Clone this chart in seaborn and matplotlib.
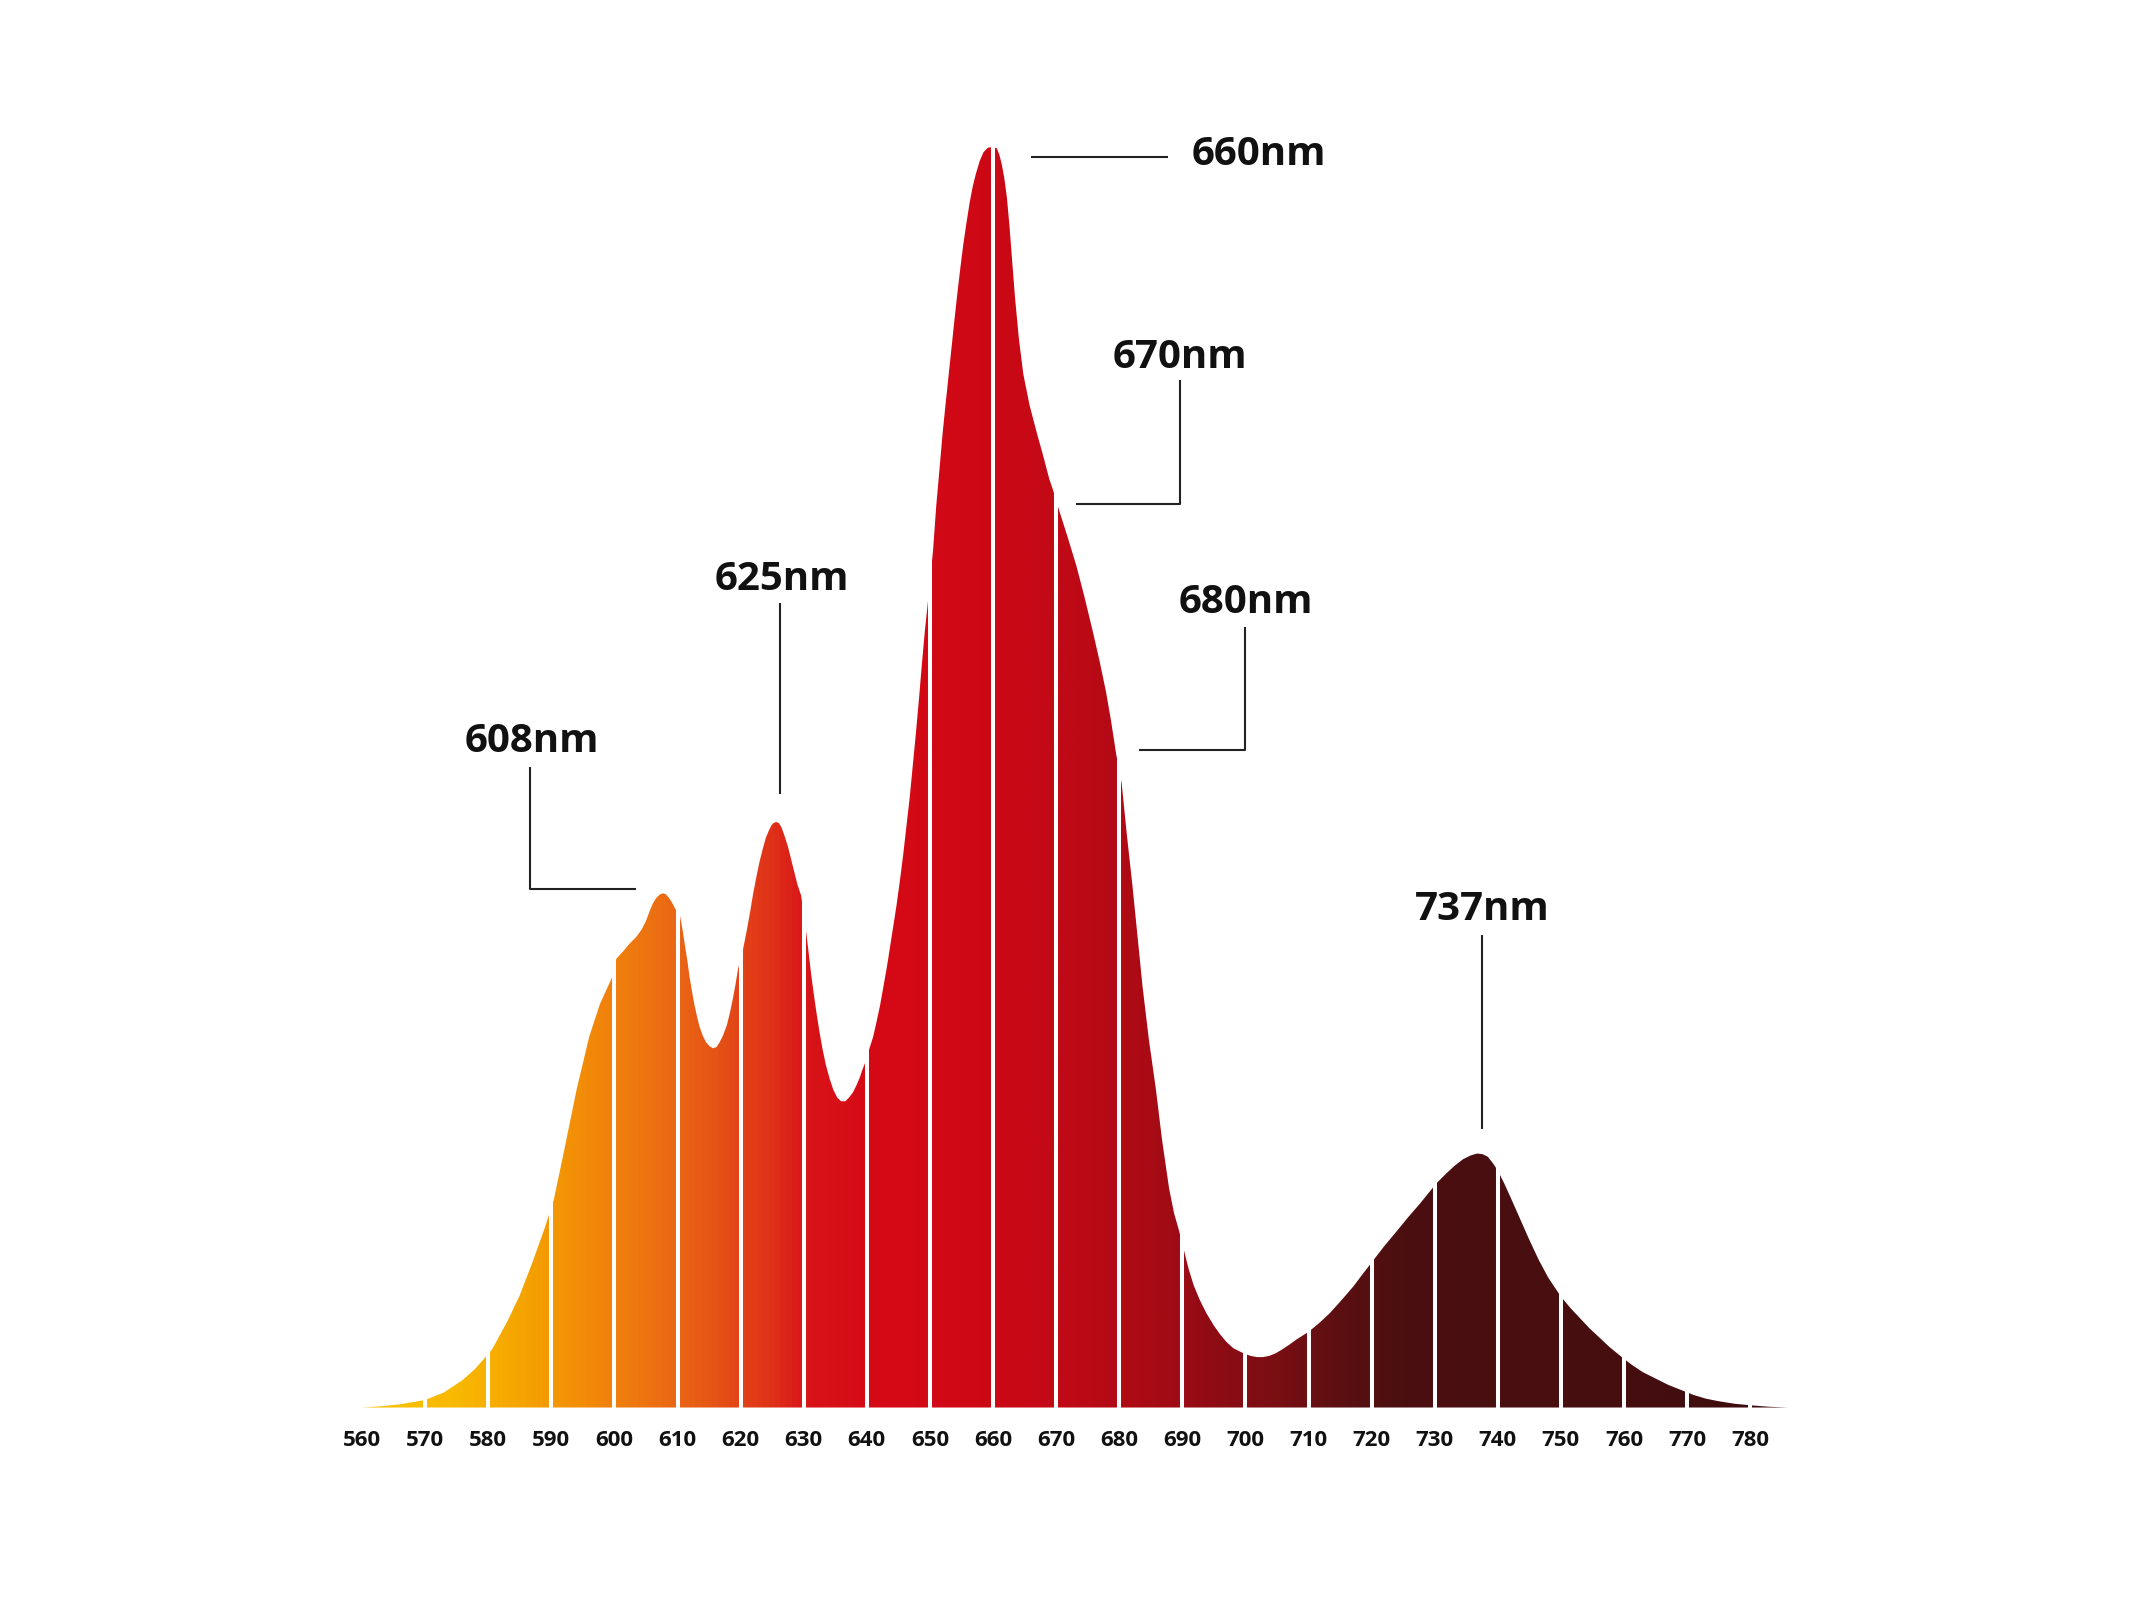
import numpy as np
import pandas as pd
import seaborn as sns
import matplotlib.pyplot as plt
from matplotlib.colors import LinearSegmentedColormap

# spectrum (relative intensity, 660nm peak = 100)
wavelength = [560, 563, 566, 570, 573, 576, 578, 580.6, 583, 585, 587, 589, 590.4, 592, 594, 596,
              597.7, 599.7, 600.3, 601.4, 602.4, 603.4, 604.3, 605.0, 605.6, 606.1, 606.6, 607.2,
              607.7, 608.2, 608.7, 609.2, 609.6, 610.4, 610.8, 611.2, 611.6, 611.9, 612.3, 612.7,
              613.1, 613.5, 614.0, 614.5, 615.0, 615.6, 616.2, 616.7, 617.2, 617.8, 618.3, 618.8,
              619.2, 619.6, 620.4, 621.0, 621.5, 622.0, 622.5, 623.0, 623.5, 624.0, 624.5, 624.9,
              625.3, 625.7, 626.1, 626.5, 627.0, 627.5, 628.0, 628.5, 629.0, 629.6, 630.4, 630.8,
              631.2, 631.6, 632.0, 632.5, 633.0, 633.5, 634.1, 634.7, 635.3, 635.9, 636.6, 637.2,
              637.8, 638.4, 638.9, 639.3, 639.7, 640.3, 641.0, 641.5, 642.1, 642.6, 643.2, 643.7,
              644.2, 644.7, 645.3, 645.8, 646.3, 646.8, 647.3, 647.8, 648.3, 648.7, 649.2, 649.7,
              650.5, 651.0, 651.6, 652.0, 652.4, 652.8, 653.2, 653.6, 654.0, 654.4, 654.8, 655.3,
              655.8, 656.3, 656.8, 657.3, 657.9, 658.5, 659.2, 660.0, 660.6, 661.0, 661.4, 661.8,
              662.2, 662.6, 663.0, 663.5, 664.1, 664.8, 665.8, 666.9, 667.9, 668.9, 669.7, 670.4,
              671.8, 673.2, 674.5, 675.8, 676.9, 677.9, 678.7, 679.5, 680.4, 681.2, 682.1, 682.9,
              683.7, 684.7, 685.8, 686.8, 687.9, 688.7, 689.5, 690.3, 691.0, 691.8, 692.8, 693.8,
              695.0, 696.0, 697.0, 698.1, 699.7, 700.8, 701.8, 702.8, 703.8, 704.8, 705.8, 707.0,
              708.1, 710, 711.7, 713.4, 715.2, 717.1, 718.6, 720, 722.0, 724.0, 725.8, 727.7,
              729.0, 730.3, 731.9, 733.2, 734.5, 735.7, 736.7, 737.6, 738.4, 739.2, 740, 741.0,
              742, 743.5, 745, 746.5, 748, 749.2, 750, 751.5, 753, 754.5, 756, 757.7, 759.4, 761.2,
              763, 765, 767, 769, 771, 773, 775, 777.5, 780, 783, 786]
intensity = [0, 0.1, 0.25, 0.6, 1.2, 2.2, 3.1, 4.6, 6.8, 8.9, 11.5, 14.3, 16.5, 20.3, 25.2, 29.4,
             32.0, 34.2, 35.6, 36.2, 36.8, 37.3, 37.9, 38.6, 39.4, 40.0, 40.4, 40.7,
             40.8, 40.7, 40.4, 40.0, 39.6, 39.0, 37.9, 36.6, 35.3, 34.2, 33.0, 31.9,
             31.0, 30.2, 29.5, 29.0, 28.7, 28.5, 28.6, 29.0, 29.5, 30.3, 31.3, 32.5,
             33.6, 34.8, 36.4, 37.9, 39.3, 40.8, 42.1, 43.3, 44.3, 45.2, 45.8, 46.2,
             46.4, 46.45, 46.35, 46.0, 45.3, 44.5, 43.5, 42.5, 41.5, 40.6, 37.7, 36.0,
             34.3, 32.8, 31.4, 29.8, 28.4, 27.2, 26.1, 25.2, 24.6, 24.3, 24.3, 24.6,
             25.0, 25.6, 26.2, 26.8, 27.3, 28.3, 29.4, 30.5, 31.9, 33.3, 35.0, 36.6,
             38.2, 39.8, 42.0, 44.0, 46.2, 48.4, 51.0, 53.6, 56.4, 58.8, 61.6, 64.0,
             68.0, 71.5, 74.9, 77.2, 79.2, 81.1, 83.0, 84.9, 86.8, 88.6, 90.3, 92.3,
             94.0, 95.6, 96.9, 97.9, 98.9, 99.6, 99.95, 100, 99.9, 99.4, 98.6, 97.5,
             96.0, 93.8, 91.2, 88.0, 84.8, 82.0, 79.5, 77.4, 75.6, 73.7, 72.5, 71.3,
             69.1, 66.8, 64.3, 61.6, 59.2, 56.8, 54.5, 51.9, 49.5, 45.5, 41.4, 37.4,
             33.4, 29.2, 25.3, 21.2, 17.4, 15.4, 14.0, 12.4, 11.0, 9.7, 8.5, 7.5,
             6.5, 5.8, 5.2, 4.7, 4.3, 4.1, 4.0, 4.0, 4.1, 4.3, 4.6, 5.0,
             5.4, 6.0, 6.7, 7.5, 8.5, 9.6, 10.6, 11.5, 12.8, 14.0, 15.1, 16.2,
             17.0, 17.8, 18.6, 19.2, 19.7, 20.0, 20.15, 20.1, 19.9, 19.4, 18.8, 17.8,
             16.7, 15.0, 13.3, 11.7, 10.3, 9.4, 8.8, 7.9, 7.1, 6.3, 5.6, 4.8, 4.1, 3.4,
             2.8, 2.3, 1.8, 1.4, 1.0, 0.7, 0.5, 0.3, 0.18, 0.06, 0]

tick_nm = list(range(560, 781, 10))

# colour along the spectrum
stop_nm = [558, 575, 585, 595, 605, 615, 625, 630, 640, 655, 665, 675, 685, 695, 705, 715, 725, 760, 788]
stop_col = ['#f9c400', '#f8b800', '#f5a400', '#f28b08', '#ed7312', '#e65616', '#df3019', '#d81518',
            '#d60a16', '#d00815', '#c80916', '#bb0a16', '#a80b14', '#8f0c14', '#7a0e14', '#5c1012',
            '#4b0f10', '#470e10', '#3a0c0e']

# peak labels: text, text position, leader line
peaks = ['608nm', '625nm', '660nm', '670nm', '680nm', '737nm']
label_x = [587.0, 626.6, 691.5, 689.7, 700.0, 737.5]
label_y = [52.8, 65.7, 99.4, 83.3, 63.9, 39.5]
label_ha = ['center', 'center', 'left', 'center', 'center', 'center']
leader_x = [[586.6, 586.6, 603.4], [626.2, 626.2], [666.0, 687.8], [689.7, 689.7, 673.1],
            [700.0, 700.0, 683.2], [737.5, 737.5]]
leader_y = [[50.8, 41.1, 41.1], [63.8, 48.7], [99.2, 99.2], [81.5, 71.7, 71.7],
            [61.9, 52.2, 52.2], [37.5, 22.1]]

df = pd.DataFrame({'nm': wavelength, 'rel': intensity})

sns.set_theme(style='white')
plt.rcParams['font.family'] = ['Open Sans', 'DejaVu Sans']

fig = plt.figure(figsize=(21.33, 16), dpi=100)
ax = fig.add_axes([0.1638, 0.1203, 0.6804, 0.7878])

sns.lineplot(data=df, x='nm', y='rel', ax=ax, sort=False, linewidth=0, color='#d60a16')

# gradient fill clipped to the spectrum shape
fill = ax.fill_between(df['nm'], df['rel'], 0, color='none', linewidth=0)
cmap = LinearSegmentedColormap.from_list(
    'spec', [((n - stop_nm[0]) / (stop_nm[-1] - stop_nm[0]), c) for n, c in zip(stop_nm, stop_col)])
grad = np.linspace(0, 1, 1200).reshape(1, -1)
im = ax.imshow(grad, extent=[stop_nm[0], stop_nm[-1], 0, 101], aspect='auto', cmap=cmap,
               origin='lower', zorder=2)
im.set_clip_path(fill.get_paths()[0], transform=ax.transData)

# white separators every 10nm
sep_x = tick_nm[1:]
sep_top = [max(np.interp(t - 0.6, wavelength, intensity), np.interp(t + 0.6, wavelength, intensity)) + 1
           for t in sep_x]
ax.vlines(sep_x, 0, sep_top, color='white', linewidth=2.9, zorder=3)

for name, tx, ty, ha, lx, ly in zip(peaks, label_x, label_y, label_ha, leader_x, leader_y):
    ax.plot(lx, ly, color='#222222', linewidth=1.5, solid_capstyle='butt', clip_on=False, zorder=4)
    ax.text(tx, ty, name, ha=ha, va='center', fontsize=29, fontweight='bold', color='#111111',
            clip_on=False, zorder=5)

ax.set_xlim(stop_nm[0], stop_nm[-1])
ax.set_ylim(0, 100)
ax.set_xticks(tick_nm)
ax.set_xticklabels([str(t) for t in tick_nm], fontsize=16, fontweight='bold', color='#111111')
ax.tick_params(axis='x', length=0, pad=16)
ax.set_yticks([])
ax.set_xlabel('')
ax.set_ylabel('')
for s in ax.spines.values():
    s.set_visible(False)

fig.savefig('out.png', dpi=100, facecolor='white')
